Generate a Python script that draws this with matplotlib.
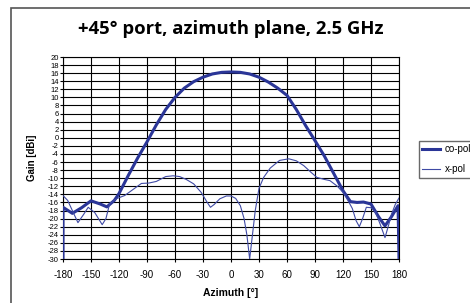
import numpy as np
import matplotlib.pyplot as plt
from matplotlib.patches import Rectangle

plt.rcParams['font.family'] = ['Liberation Sans', 'DejaVu Sans']
plt.rcParams['axes.unicode_minus'] = False

# co-pol (thick), azimuth in degrees / gain in dBi
co_az = [-180, -180, -170, -160, -150, -140, -133, -125, -120, -110, -100, -90,
         -80, -70, -60, -50, -40, -30, -20, -10, 0, 10, 20, 30, 40, 50, 60,
         70, 80, 90, 100, 110, 120, 128, 135, 142, 150, 158, 165, 172, 179, 180]
co_gain = [-30, -17.2, -18.7, -17.3, -15.6, -16.4, -17.1, -15.5, -13.8, -9.3, -5.0, -1.0,
           3.2, 7.0, 10.0, 12.3, 13.9, 15.0, 15.8, 16.2, 16.3, 16.2, 15.8, 15.0, 13.8, 12.3, 10.5,
           7.0, 3.0, -0.7, -4.5, -8.8, -13.1, -15.8, -16.0, -15.9, -16.4, -19.5, -21.8, -19.5, -16.8, -30]

# x-pol (thin)
x_az = [-180, -175, -170, -164, -158, -153, -146, -138, -134, -130, -122, -114,
        -105, -96, -88, -80, -70, -62, -55, -48, -40, -32, -26, -22, -18, -12,
        -5, 0, 5, 10, 14, 17, 20, 23, 26, 30, 35, 42, 52, 62, 70, 78, 86, 92,
        100, 106, 114, 120, 126, 130, 134, 137.5, 141, 145, 150, 155, 160, 165,
        169, 172, 176, 180]
x_gain = [-14.3, -15.5, -18.0, -21.0, -19.0, -17.2, -18.5, -21.5, -20.0, -16.3, -15.0, -14.3,
          -12.8, -11.3, -11.2, -10.8, -9.6, -9.4, -9.6, -10.3, -11.4, -13.5, -15.8, -17.2, -16.5, -15.1,
          -14.4, -14.4, -15.0, -16.8, -20.0, -24.0, -30.0, -24.0, -18.0, -12.5, -9.8, -7.5, -5.6, -5.2, -5.7, -6.9, -8.6, -9.8,
          -10.3, -10.6, -12.0, -13.5, -15.8, -17.5, -20.5, -22.0, -20.0, -17.2, -17.3, -18.5, -21.5, -24.7,
          -21.5, -18.9, -16.5, -14.9]

x_ticks = np.arange(-180, 181, 30)
y_ticks = np.arange(-30, 21, 2)

fig = plt.figure(figsize=(4.70, 3.03), dpi=100)
ax = fig.add_axes([63/470, 1 - 259/303, 336/470, 202/303])

ax.plot(co_az, co_gain, color="#2a3597", lw=2.2, label="co-pol", zorder=3)
ax.plot(x_az, x_gain, color="#3f4aa5", lw=0.8, label="x-pol", zorder=3)

ax.set_xlim(-180, 180)
ax.set_ylim(-30, 20)
ax.set_xticks(x_ticks)
ax.set_yticks(y_ticks)
ax.tick_params(axis="x", labelsize=7, length=2, pad=6)
ax.tick_params(axis="y", labelsize=5.5, length=2, pad=1)
ax.grid(True, color="black", lw=0.8)
for s in ax.spines.values():
    s.set_linewidth(0.8)

ax.set_xlabel("Azimuth [°]", fontsize=7.5, fontweight="bold", labelpad=6)
ax.set_ylabel("Gain [dBi]", fontsize=7, fontweight="bold", labelpad=8)

fig.text(231/470, 1 - 29/303, "+45° port, azimuth plane, 2.5 GHz",
         fontsize=13.3, fontweight="bold", family=["Open Sans", "DejaVu Sans"],
         ha="center", va="center")

fig.legend(loc="upper left", bbox_to_anchor=(419/470, 1 - 141/303),
           fontsize=7, frameon=True, fancybox=False, edgecolor="#444444",
           borderpad=0.35, handlelength=1.8, handletextpad=0.5, labelspacing=1.0,
           borderaxespad=0)

# outer chart frame
fig.patches.append(Rectangle((11/470, -0.1), 1.2, 1 - 8/303 + 0.1,
                             transform=fig.transFigure, fill=False,
                             edgecolor="#555555", lw=1.2))

fig.savefig("out.png", dpi=100)
